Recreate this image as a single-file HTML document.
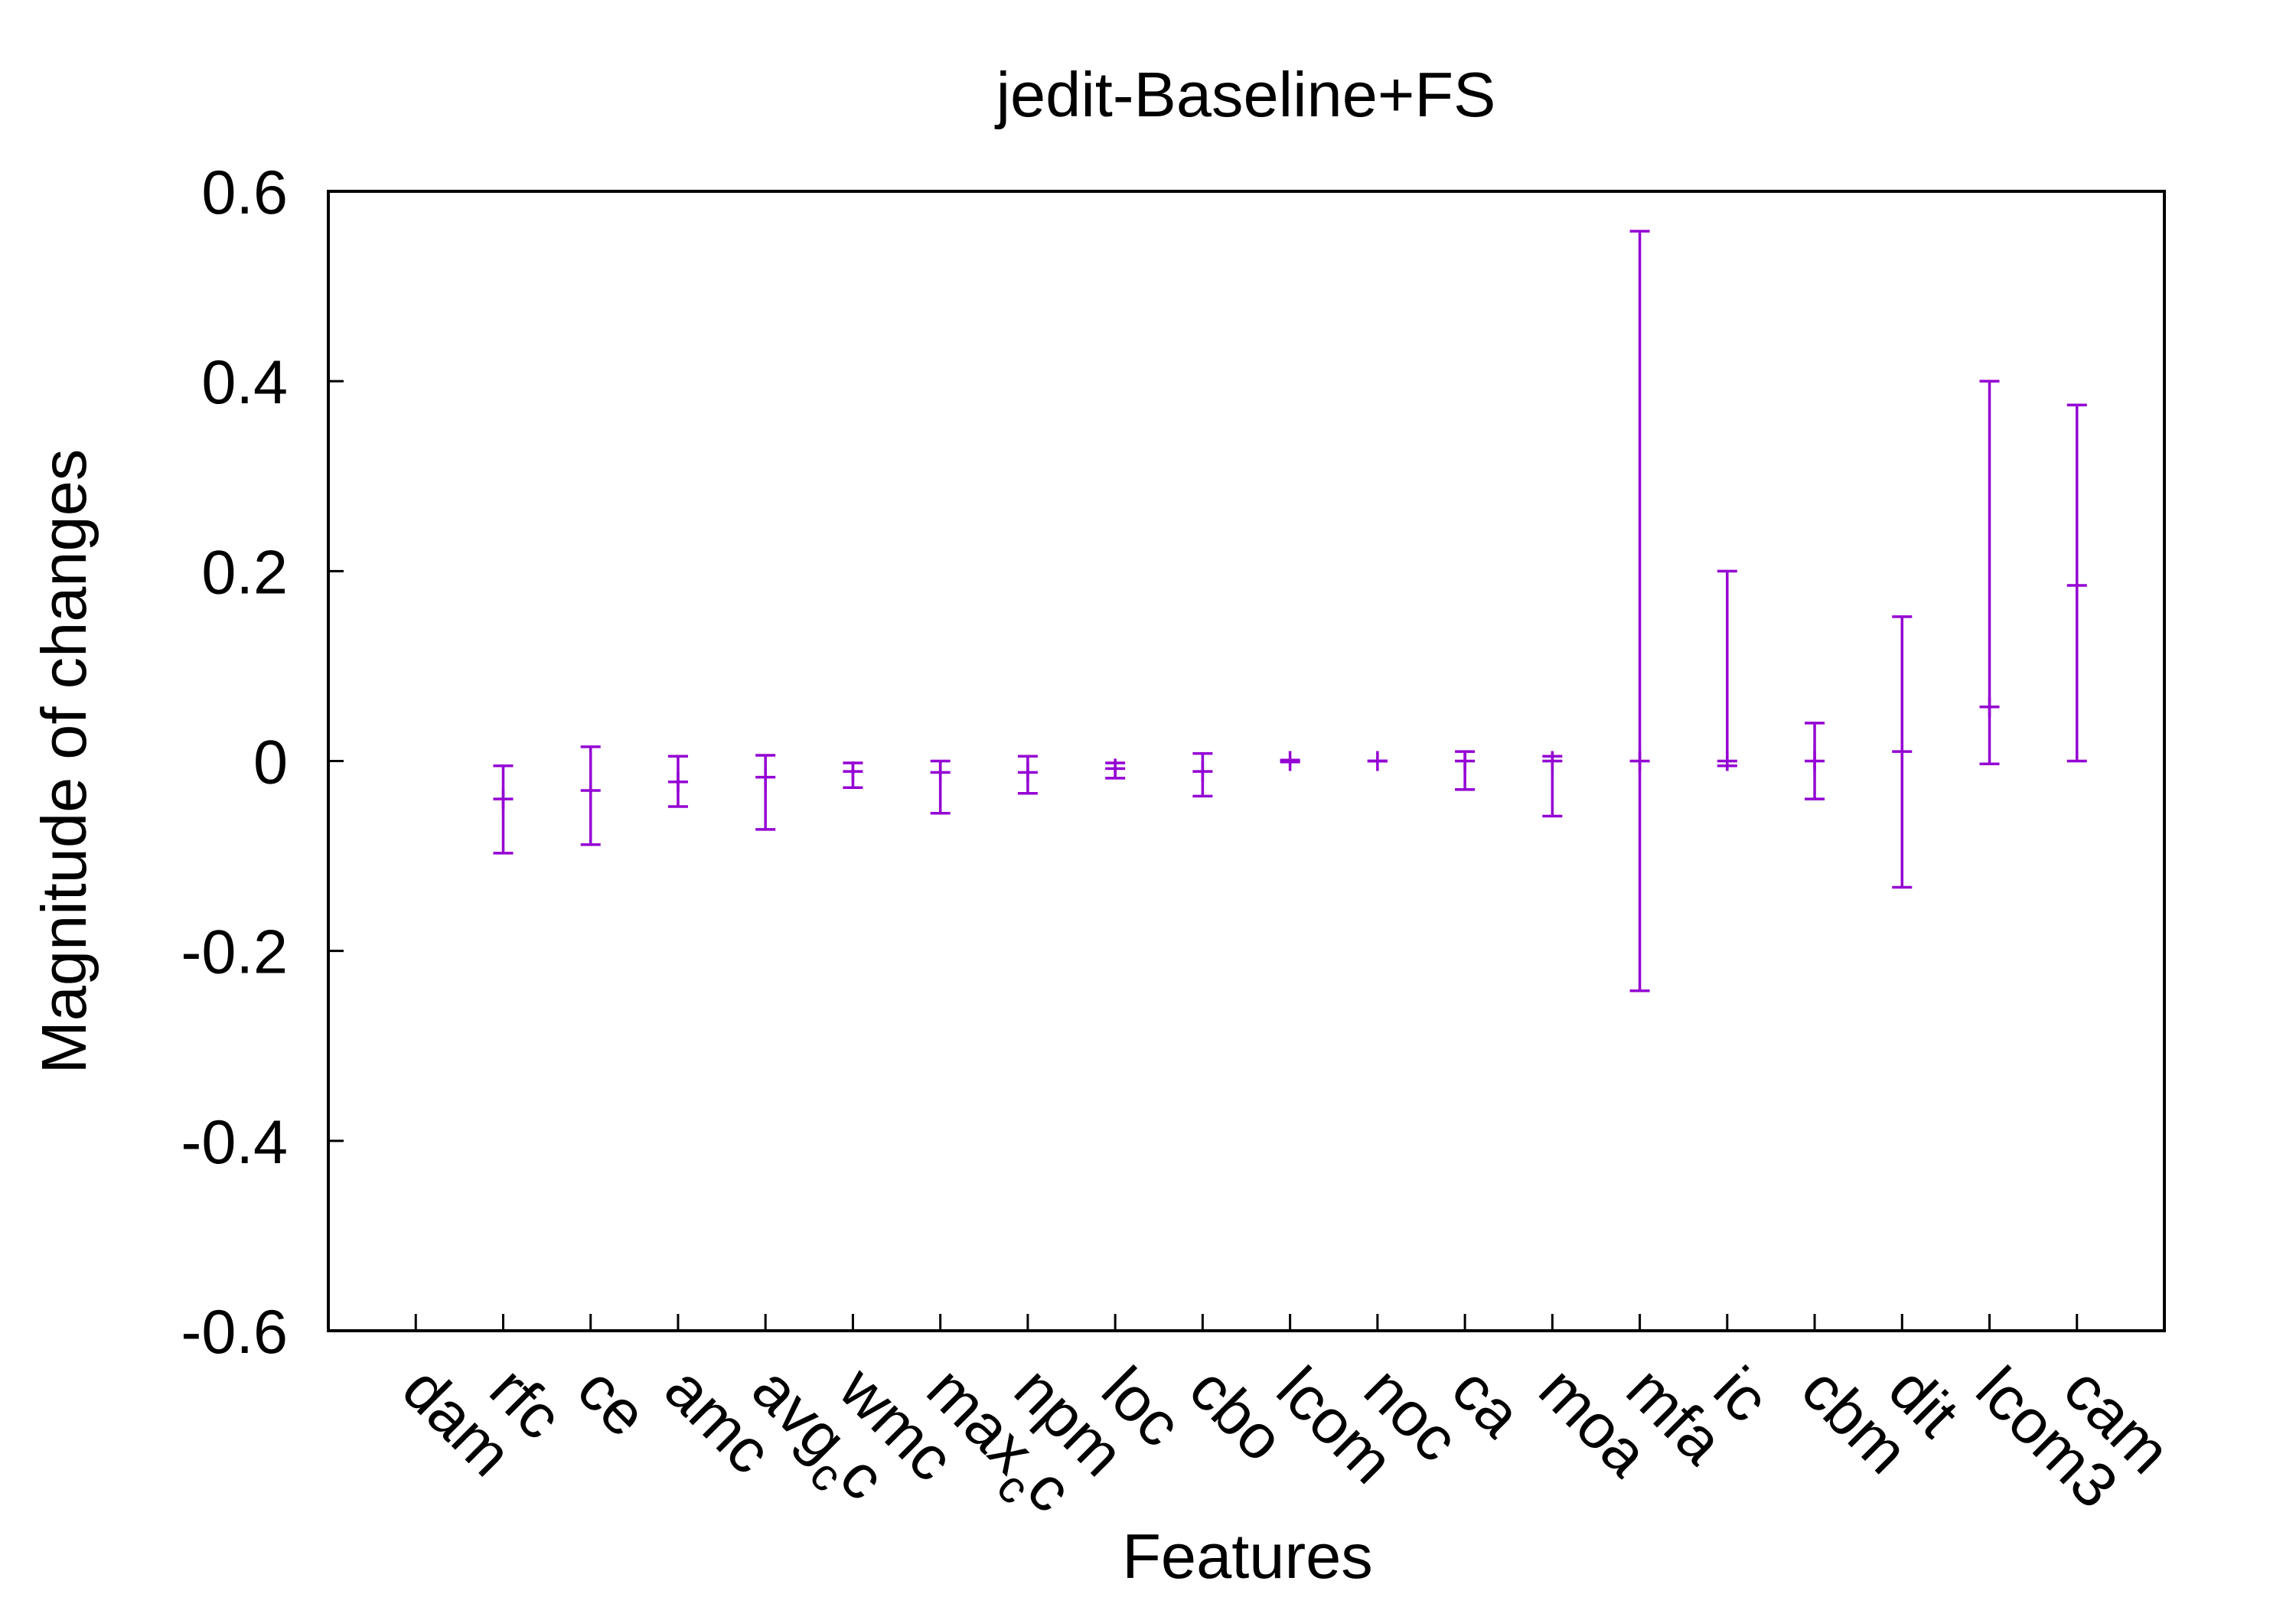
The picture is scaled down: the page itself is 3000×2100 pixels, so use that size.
<!DOCTYPE html>
<html><head><meta charset="utf-8"><style>
html,body{margin:0;padding:0;background:#fff}
svg{display:block}
text{font-family:"Liberation Sans",sans-serif;fill:#000}
</style></head><body>
<svg id="chart" width="3000" height="2100" viewBox="0 0 3000 2100">
<rect x="0" y="0" width="3000" height="2100" fill="#fff"/>
<text x="1628" y="152" font-size="83" text-anchor="middle">jedit-Baseline+FS</text>
<text transform="translate(112,995) rotate(-90)" font-size="83" text-anchor="middle">Magnitude of changes</text>
<text x="1630" y="2062" font-size="83" text-anchor="middle">Features</text>
<g id="axes"></g>
<g id="marks"></g>
<rect x="429" y="250" width="2399" height="1489" fill="none" stroke="#000" stroke-width="4"/>
</svg>
<script>
const categories = ["dam","rfc","ce","amc","avg_cc","wmc","max_cc","npm","loc","cbo","lcom","noc","ca","moa","mfa","ic","cbm","dit","lcom3","cam"];
const highs = [null,-0.005,0.015,0.005,0.006,-0.002,0,0.005,-0.002,0.008,0.001,0,0.01,0.005,0.558,0.2,0.04,0.152,0.4,0.375];
const means = [null,-0.04,-0.031,-0.022,-0.017,-0.011,-0.012,-0.012,-0.008,-0.011,0,0,0,0,0,0,0,0.01,0.057,0.185];
const lows = [null,-0.097,-0.088,-0.048,-0.072,-0.028,-0.055,-0.034,-0.018,-0.037,-0.001,0,-0.03,-0.058,-0.242,-0.005,-0.04,-0.133,-0.003,0];
const yTicks = [0.6,0.4,0.2,0,-0.2,-0.4,-0.6];
const yTickLabels = ["0.6","0.4","0.2","0","-0.2","-0.4","-0.6"];

const NS="http://www.w3.org/2000/svg";
const L=429,R=2828,T=250,B=1739;
function xScale(i){return L+(i+1)*(R-L)/21;}
function yScale(v){return T+(0.6-v)*(B-T)/1.2;}
function mk(tag,attrs,parent){const e=document.createElementNS(NS,tag);for(const k in attrs)e.setAttribute(k,attrs[k]);parent.appendChild(e);return e;}
const axes=document.getElementById('axes'), marks=document.getElementById('marks');

yTicks.forEach((v,i)=>{
  const y=yScale(v);
  const t=mk('line',{x1:L,x2:L+20,y1:y,y2:y,stroke:'#000','stroke-width':3},axes);
  
  
  const lb=mk('text',{x:376,y:y+29,'font-size':81,'text-anchor':'end'},axes);
  lb.textContent=yTickLabels[i];
  
  
});

categories.forEach((c,i)=>{
  const x=xScale(i);
  const t=mk('line',{x1:x,x2:x,y1:B,y2:B-22,stroke:'#000','stroke-width':3},axes);
  
  
  const lb=mk('text',{'font-size':82,transform:`translate(${x-22},${B+82}) rotate(45)`},axes);
  
  
  const m=c.match(/^(\w+)_(c)(c)$/);
  if(m){
    lb.appendChild(document.createTextNode(m[1]));
    const s=mk('tspan',{'font-size':60,dy:24},lb);s.textContent='c';
    const s2=mk('tspan',{dy:-24},lb);s2.textContent='c';
  } else lb.textContent=c;

  if(highs[i]===null) return;
  const g=mk('g',{},marks);
  
  
  const col='#9400d3',sw=3.5,hw=13;
  const ym=yScale(means[i]);
  mk('line',{x1:x,x2:x,y1:yScale(highs[i]),y2:yScale(lows[i]),stroke:col,'stroke-width':sw},g);
  mk('line',{x1:x-hw,x2:x+hw,y1:yScale(highs[i]),y2:yScale(highs[i]),stroke:col,'stroke-width':sw},g);
  mk('line',{x1:x-hw,x2:x+hw,y1:yScale(lows[i]),y2:yScale(lows[i]),stroke:col,'stroke-width':sw},g);
  mk('line',{x1:x-hw,x2:x+hw,y1:ym,y2:ym,stroke:col,'stroke-width':sw},g);
  mk('line',{x1:x,x2:x,y1:ym-13,y2:ym+13,stroke:col,'stroke-width':sw},g);
});
</script>
</body></html>
